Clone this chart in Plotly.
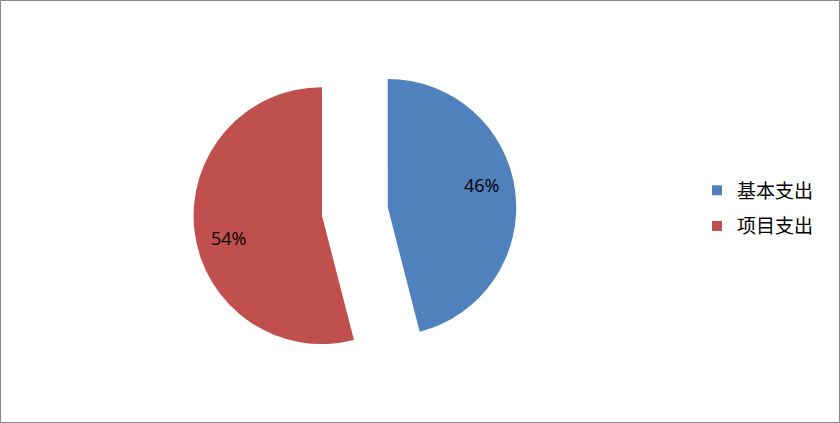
import math
import plotly.graph_objects as go

categories = ["基本支出", "项目支出"]
values = [46, 54]
colors = ["#4F81BD", "#C0504D"]

W, H = 840, 423
PULL = 0.258
DOM_X = [0.185, 0.660]
DOM_Y = [0.118, 0.882]
LABEL_K = 0.75        # label radius as fraction of slice radius
LABEL_ROT = -6.0      # degrees offset of label from slice bisector

fig = go.Figure()
fig.add_trace(go.Pie(
    labels=categories,
    values=values,
    sort=False,
    direction="clockwise",
    rotation=0,
    pull=[PULL] * len(values),
    marker=dict(colors=colors, line=dict(width=0)),
    textinfo="none",
    domain=dict(x=DOM_X, y=DOM_Y),
    hoverinfo="label+percent",
    showlegend=False,
))

# legend entries (legend-only traces so item spacing can be controlled)
for i, (cat, col) in enumerate(zip(categories, colors)):
    fig.add_trace(go.Scatter(
        x=[None], y=[None], mode="markers", name=cat,
        marker=dict(symbol="square", size=10, color=col),
        legendgroup=f"g{i}", showlegend=True, hoverinfo="skip",
    ))

# percentage labels computed from values and pie geometry
total = sum(values)
cx0 = (DOM_X[0] + DOM_X[1]) / 2 * W
cy0 = (1 - (DOM_Y[0] + DOM_Y[1]) / 2) * H
r = min((DOM_X[1] - DOM_X[0]) * W, (DOM_Y[1] - DOM_Y[0]) * H) / 2 / (1 + PULL)
annotations = []
cum = 0
for v in values:
    mid = (cum + v / 2) / total * 360
    cum += v
    a = math.radians(mid)
    cx = cx0 + PULL * r * math.sin(a)
    cy = cy0 - PULL * r * math.cos(a)
    al = math.radians(mid + LABEL_ROT)
    lx = cx + LABEL_K * r * math.sin(al)
    ly = cy - LABEL_K * r * math.cos(al)
    annotations.append(dict(
        x=lx / W, y=1 - ly / H, xref="paper", yref="paper",
        text=f"{round(v / total * 100)}%", showarrow=False,
        xanchor="center", yanchor="middle",
        font=dict(family="Open Sans, Noto Sans, sans-serif", size=18, color="#000000"),
    ))

fig.update_layout(
    width=W, height=H,
    margin=dict(l=0, r=0, t=0, b=0),
    paper_bgcolor="white",
    plot_bgcolor="white",
    xaxis=dict(visible=False),
    yaxis=dict(visible=False),
    showlegend=True,
    legend=dict(
        x=697 / W, y=1 - 208.5 / H, xanchor="left", yanchor="middle",
        font=dict(family="Noto Sans CJK SC, sans-serif", size=19, color="#000000"),
        itemsizing="trace",
        tracegroupgap=8,
        bgcolor="rgba(0,0,0,0)",
    ),
    annotations=annotations,
    shapes=[dict(type="rect", xref="paper", yref="paper",
                 x0=0.5 / W, x1=1 - 0.5 / W, y0=0.5 / H, y1=1 - 0.5 / H,
                 line=dict(color="#868686", width=1))],
)

fig.write_html("out.html", config={"displayModeBar": False},
               post_script="document.body.style.margin='0px';document.body.style.padding='0px';")
